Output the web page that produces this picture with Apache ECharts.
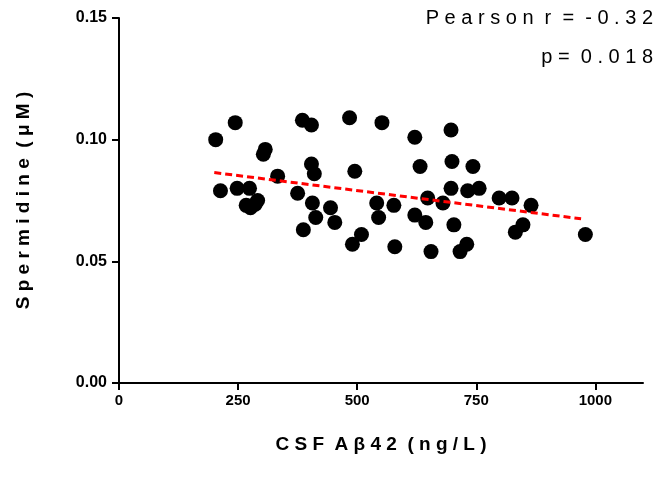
<!DOCTYPE html>
<html>
<head>
<meta charset="utf-8">
<script src="https://cdn.jsdelivr.net/npm/echarts@6/dist/echarts.min.js"></script>
<style>
  html, body { margin: 0; padding: 0; background: #fff; }
  #chart { width: 657px; height: 485px; }
</style>
</head>
<body>
<div id="chart"></div>
<script>
// CSF Abeta42 (ng/L) vs spermidine (uM)
var abeta = [203, 213, 244, 248, 267, 274, 276, 291, 286, 303, 307, 333, 375, 385, 387, 404, 404, 410, 406, 413,
  444, 453, 484, 495, 490, 509, 541, 545, 552, 577, 579, 621, 632, 621, 644, 648, 655, 680, 697, 699,
  697, 703, 716, 730, 732, 743, 756, 798, 825, 832, 848, 865, 979];
var spermidine = [0.100, 0.079, 0.107, 0.080, 0.073, 0.080, 0.072, 0.075, 0.0735, 0.094, 0.096, 0.085, 0.078, 0.108, 0.063, 0.106, 0.090, 0.086, 0.074, 0.068,
  0.072, 0.066, 0.109, 0.087, 0.057, 0.061, 0.074, 0.068, 0.107, 0.073, 0.056, 0.101, 0.089, 0.069, 0.066, 0.076, 0.054, 0.074, 0.104, 0.091,
  0.080, 0.065, 0.054, 0.057, 0.079, 0.089, 0.080, 0.076, 0.076, 0.062, 0.065, 0.073, 0.061];
var fitX = [200, 970];
var fitY = [0.0865, 0.0675];
var xTicks = [0, 250, 500, 750, 1000];

var chart = echarts.init(document.getElementById('chart'));
var font = 'Liberation Sans, Arial, sans-serif';
chart.setOption({
  animation: false,
  grid: { left: 119, top: 18, right: 14, bottom: 102 },
  xAxis: {
    type: 'value', min: 0, max: 1100,
    name: 'C S F  A β 4 2  ( n g / L )', nameLocation: 'middle', nameGap: 52,
    nameTextStyle: { fontFamily: font, fontWeight: 'bold', fontSize: 19, color: '#000' },
    splitLine: { show: false },
    axisLine: { lineStyle: { color: '#000', width: 2 } },
    axisTick: { length: 7, lineStyle: { color: '#000', width: 2 }, customValues: xTicks },
    axisLabel: { customValues: xTicks, fontFamily: font, fontSize: 15, fontWeight: 'bold', color: '#000', margin: 10,
      formatter: function (v) { return String(v); } }
  },
  yAxis: {
    type: 'value', min: 0, max: 0.15, interval: 0.05,
    name: 'S p e r m i d i n e  ( μ M )', nameLocation: 'middle', nameGap: 86,
    nameTextStyle: { fontFamily: font, fontWeight: 'bold', fontSize: 19, color: '#000' },
    splitLine: { show: false },
    axisLine: { show: true, lineStyle: { color: '#000', width: 2 } },
    axisTick: { show: true, length: 7, lineStyle: { color: '#000', width: 2 } },
    axisLabel: { fontFamily: font, fontSize: 16, fontWeight: 'bold', color: '#000', margin: 12,
      formatter: function (v) { return v.toFixed(2); } }
  },
  graphic: [
    { type: 'text', right: 4, top: 8, style: { text: 'P e a r s o n  r  =  - 0 . 3 2', font: '20px ' + font, fill: '#000' } },
    { type: 'text', right: 4, top: 47, style: { text: 'p =  0 . 0 1 8', font: '20px ' + font, fill: '#000' } }
  ],
  series: [
    {
      type: 'scatter', symbolSize: 15,
      itemStyle: { color: '#000', opacity: 1 },
      data: abeta.map(function (x, i) { return [x, spermidine[i]]; })
    },
    {
      type: 'line', symbol: 'none',
      lineStyle: { color: '#ff0000', width: 3, type: [7, 4] },
      data: fitX.map(function (x, i) { return [x, fitY[i]]; })
    }
  ]
});
</script>
</body>
</html>
